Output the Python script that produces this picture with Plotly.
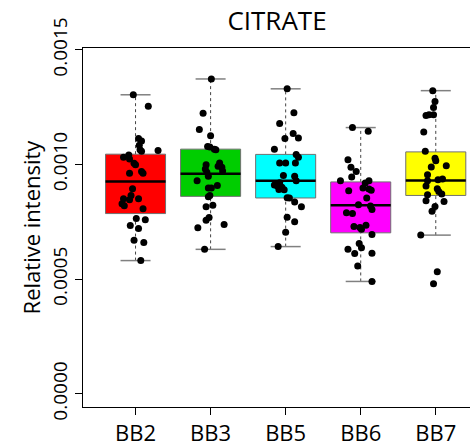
import plotly.graph_objects as go

# Groups and box fill colours
groups = ["BB2", "BB3", "BB5", "BB6", "BB7"]
fill_colors = ["#FF0000", "#00CD00", "#00FFFF", "#FF00FF", "#FFFF00"]

# Relative intensity per sample
bb2 = [1.304e-3, 1.254e-3, 1.113e-3, 1.102e-3, 1.084e-3, 1.064e-3, 1.058e-3, 1.061e-3,
       1.041e-3, 1.032e-3, 1.024e-3, 1.005e-3, 0.999e-3, 0.969e-3, 0.962e-3, 0.962e-3,
       0.894e-3, 0.865e-3, 0.851e-3, 0.851e-3, 0.846e-3, 0.829e-3, 0.820e-3, 0.807e-3,
       0.764e-3, 0.759e-3, 0.734e-3, 0.721e-3, 0.670e-3, 0.660e-3, 0.581e-3]
bb3 = [1.373e-3, 1.223e-3, 1.153e-3, 1.125e-3, 1.079e-3, 1.076e-3, 1.067e-3, 1.064e-3,
       1.006e-3, 0.999e-3, 0.992e-3, 0.988e-3, 0.980e-3, 0.972e-3, 0.966e-3, 0.949e-3,
       0.929e-3, 0.908e-3, 0.898e-3, 0.897e-3, 0.865e-3, 0.859e-3, 0.822e-3, 0.816e-3,
       0.769e-3, 0.757e-3, 0.738e-3, 0.724e-3, 0.630e-3]
bb5 = [1.330e-3, 1.226e-3, 1.179e-3, 1.135e-3, 1.116e-3, 1.113e-3, 1.066e-3, 1.044e-3,
       1.032e-3, 1.006e-3, 1.006e-3, 1.006e-3, 0.952e-3, 0.949e-3, 0.929e-3, 0.917e-3,
       0.920e-3, 0.911e-3, 0.906e-3, 0.901e-3, 0.891e-3, 0.890e-3, 0.855e-3, 0.854e-3,
       0.836e-3, 0.816e-3, 0.770e-3, 0.750e-3, 0.705e-3, 0.642e-3]
bb6 = [1.161e-3, 1.145e-3, 1.021e-3, 0.988e-3, 0.969e-3, 0.945e-3, 0.929e-3, 0.929e-3,
       0.919e-3, 0.898e-3, 0.893e-3, 0.888e-3, 0.885e-3, 0.854e-3, 0.825e-3, 0.819e-3,
       0.804e-3, 0.790e-3, 0.786e-3, 0.730e-3, 0.735e-3, 0.725e-3, 0.718e-3, 0.695e-3,
       0.656e-3, 0.637e-3, 0.630e-3, 0.612e-3, 0.613e-3, 0.557e-3, 0.490e-3]
bb7 = [1.322e-3, 1.275e-3, 1.249e-3, 1.214e-3, 1.217e-3, 1.217e-3, 1.142e-3, 1.058e-3,
       1.027e-3, 1.016e-3, 0.995e-3, 0.989e-3, 0.955e-3, 0.934e-3, 0.937e-3, 0.929e-3,
       0.906e-3, 0.894e-3, 0.882e-3, 0.871e-3, 0.868e-3, 0.842e-3, 0.839e-3, 0.817e-3,
       0.796e-3, 0.692e-3, 0.532e-3, 0.480e-3]

# Horizontal jitter of each sample (category units)
bb2_jitter = [-0.03, 0.17, 0.04, 0.08, 0.05, 0.06, 0.08, 0.30, -0.09, -0.16, -0.08,
              -0.02, 0.00, 0.08, 0.10, -0.08, -0.04, -0.06, -0.16, 0.04, -0.08, -0.18,
              -0.15, 0.10, 0.01, 0.13, -0.07, 0.04, -0.02, 0.11, 0.07]
bb3_jitter = [0.01, -0.10, -0.15, 0.00, -0.04, -0.01, 0.05, 0.07, 0.12, -0.06, 0.10,
              0.15, -0.07, 0.16, -0.05, -0.03, -0.18, 0.09, -0.03, 0.01, -0.01, -0.03,
              0.03, -0.06, -0.02, -0.06, 0.18, -0.17, -0.08]
bb5_jitter = [0.02, 0.11, -0.08, 0.10, 0.17, -0.01, -0.15, 0.14, 0.17, -0.08, 0.00,
              0.13, -0.03, 0.12, 0.14, -0.13, -0.08, -0.15, -0.11, -0.05, -0.09, -0.02,
              0.02, 0.05, 0.12, 0.21, 0.02, 0.12, 0.00, -0.10]
bb6_jitter = [-0.11, 0.10, -0.17, -0.13, -0.06, -0.12, -0.27, 0.11, 0.06, 0.03, 0.11,
              0.14, -0.16, 0.08, -0.03, 0.13, 0.15, -0.19, -0.11, -0.09, 0.07, -0.01,
              0.01, 0.15, -0.02, 0.01, -0.17, -0.08, 0.15, -0.04, 0.15]
bb7_jitter = [-0.04, -0.01, -0.03, -0.13, -0.09, -0.03, -0.16, -0.14, -0.01, 0.00, 0.14,
              -0.06, -0.11, 0.03, 0.09, -0.11, -0.13, 0.02, 0.04, 0.08, -0.11, -0.13,
              0.11, -0.01, -0.05, -0.20, 0.02, -0.03]

# Box statistics: lower whisker, first quartile, median, third quartile, upper whisker
whisker_low = [0.581e-3, 0.630e-3, 0.642e-3, 0.490e-3, 0.692e-3]
q1 = [0.786e-3, 0.861e-3, 0.854e-3, 0.702e-3, 0.865e-3]
median = [0.926e-3, 0.960e-3, 0.929e-3, 0.822e-3, 0.930e-3]
q3 = [1.045e-3, 1.067e-3, 1.044e-3, 0.924e-3, 1.055e-3]
whisker_high = [1.304e-3, 1.373e-3, 1.330e-3, 1.161e-3, 1.322e-3]

samples = [bb2, bb3, bb5, bb6, bb7]
jitters = [bb2_jitter, bb3_jitter, bb5_jitter, bb6_jitter, bb7_jitter]

BOX_HALF = 0.4
STAPLE_HALF = 0.2
FONT = "Open Sans, Noto Sans, sans-serif"

fig = go.Figure()

for i, name in enumerate(groups):
    xc = i + 1
    # dashed whiskers
    for y0, y1 in ((whisker_low[i], q1[i]), (q3[i], whisker_high[i])):
        fig.add_trace(go.Scatter(
            x=[xc, xc], y=[y0, y1], mode="lines",
            line=dict(color="#444444", width=1, dash="3px,3px"),
            hoverinfo="skip", showlegend=False))
    # staples
    for yv in (whisker_low[i], whisker_high[i]):
        fig.add_trace(go.Scatter(
            x=[xc - STAPLE_HALF, xc + STAPLE_HALF], y=[yv, yv], mode="lines",
            line=dict(color="#808080", width=1.5),
            hoverinfo="skip", showlegend=False))
    # box body
    fig.add_trace(go.Scatter(
        x=[xc - BOX_HALF, xc + BOX_HALF, xc + BOX_HALF, xc - BOX_HALF, xc - BOX_HALF],
        y=[q1[i], q1[i], q3[i], q3[i], q1[i]],
        mode="lines", fill="toself", fillcolor=fill_colors[i],
        line=dict(color="#707070", width=1),
        name=name, hoverinfo="skip", showlegend=False))
    # median
    fig.add_trace(go.Scatter(
        x=[xc - BOX_HALF, xc + BOX_HALF], y=[median[i], median[i]], mode="lines",
        line=dict(color="black", width=2.5),
        hoverinfo="skip", showlegend=False))

# jittered sample points
for i, name in enumerate(groups):
    xc = i + 1
    fig.add_trace(go.Scatter(
        x=[xc + d for d in jitters[i]], y=samples[i], mode="markers",
        marker=dict(color="black", size=7),
        name=name, showlegend=False))

fig.update_layout(
    width=470, height=447,
    margin=dict(l=83, r=0, t=48, b=37),
    paper_bgcolor="white", plot_bgcolor="white",
    font=dict(family=FONT, color="black"),
    title=dict(text="CITRATE", x=277 / 470, xanchor="center", y=1 - 21 / 447,
               yanchor="middle", font=dict(size=26, family=FONT)),
)
fig.update_xaxes(
    range=[0.3, 5.456], tickvals=[1, 2, 3, 4, 5], ticktext=groups,
    showline=True, linecolor="black", linewidth=1, mirror=True,
    ticks="outside", ticklen=7, tickcolor="black",
    showgrid=False, zeroline=False, tickfont=dict(size=22, family=FONT))
fig.update_yaxes(
    range=[-5.75e-5, 1.508e-3], tickvals=[0, 0.0005, 0.0010, 0.0015],
    tickformat=".4f", tickangle=-90,
    showline=True, linecolor="black", linewidth=1, mirror=False,
    ticks="outside", ticklen=7, tickcolor="black",
    showgrid=False, zeroline=False, tickfont=dict(size=19, family=FONT),
    title=dict(text="Relative intensity", font=dict(size=22, family=FONT), standoff=0))

fig.write_html("out.html")
